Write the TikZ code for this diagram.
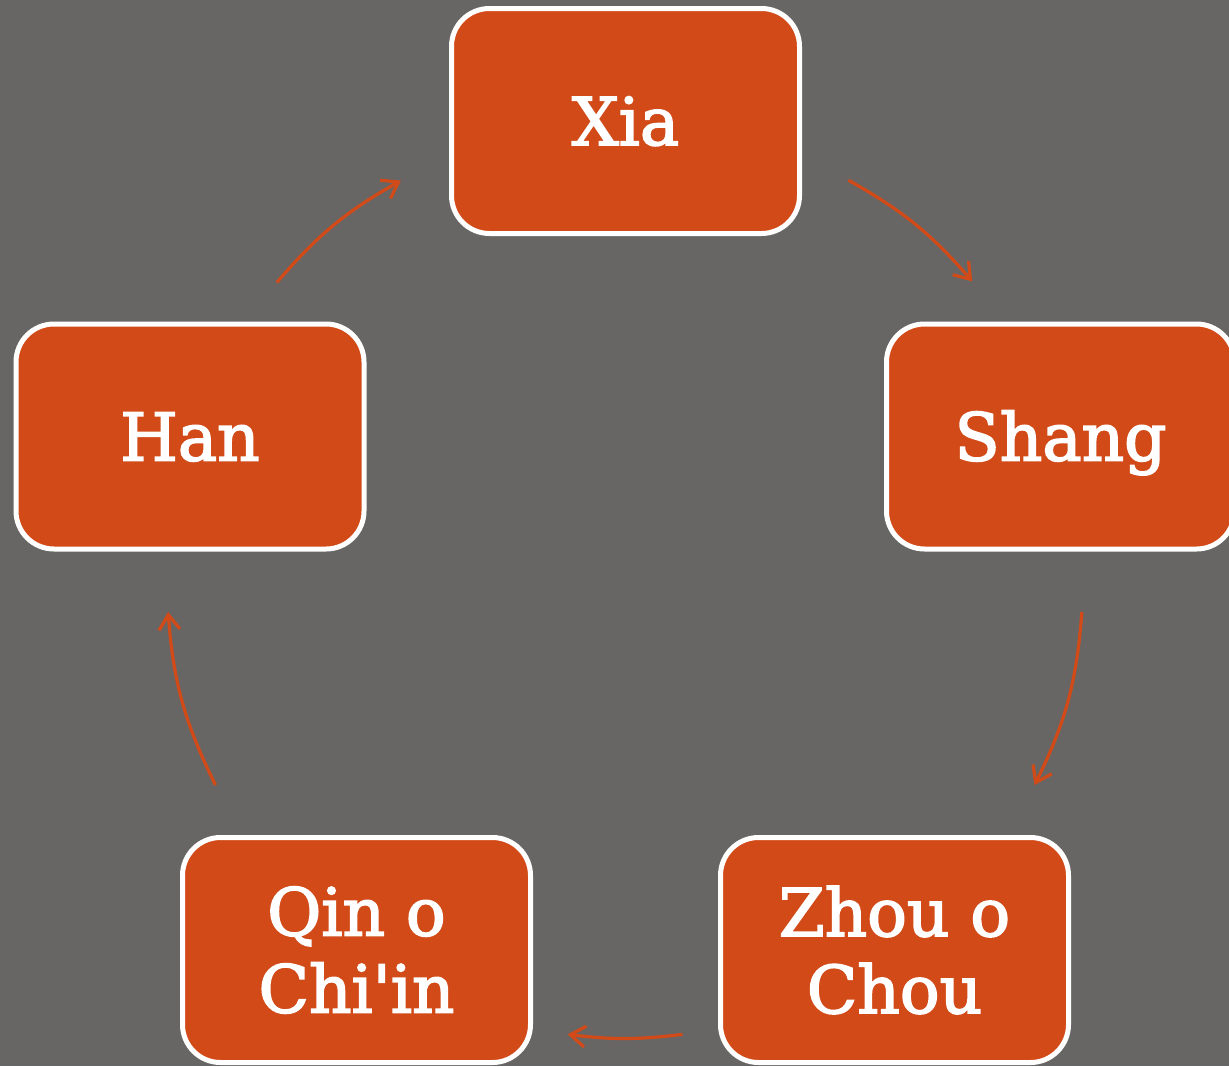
\documentclass[tikz,border=0pt]{standalone}
\usepackage{fontspec}
\setmainfont{DejaVu Serif}[Ligatures=TeXOff, BoldFont={DejaVu Serif}, BoldFeatures={FakeBold=2.5}]
\usetikzlibrary{arrows.meta}
\definecolor{bggray}{RGB}{103,102,100}
\definecolor{boxorange}{RGB}{210,74,24}
\tikzset{
  era/.style={draw=white, line width=5pt, fill=boxorange, rounded corners=38pt,
    minimum width=348pt, minimum height=225pt, text=white, inner sep=0pt,
    font=\fontsize{66}{77}\selectfont\bfseries, align=center},
  oneline/.style={text height=48pt, text depth=0pt, yshift=2pt},
  cyc/.style={draw=boxorange, line width=3.2pt,
    -{Straight Barb[length=15pt,width=21pt,line width=3.2pt]}}
}
\begin{document}
\begin{tikzpicture}
\useasboundingbox (0pt,0pt) rectangle (1229pt,-1066pt);
\clip (0pt,0pt) rectangle (1229pt,-1066pt);
\fill[bggray] (0pt,0pt) rectangle (1229pt,-1066pt);

\node[era, oneline] (xia)   at (625.5pt,-123pt)  {Xia};
\node[era, oneline] (shang) at (1060.5pt,-438.5pt) {Shang};
\node[era, oneline] (han)   at (190pt,-438.5pt)  {Han};
\node[era] (zhou)  at (894.5pt,-950pt) {Zhou o\\Chou};
\node[era] (qin)   at (356.5pt,-950pt) {Qin o\\Chi'in};

\coordinate (ctr) at (625pt,-580pt);
\coordinate (xs1) at ([shift={(60.8:458pt)}]ctr);
\coordinate (xs2) at ([shift={(40.7:458pt)}]ctr);
\coordinate (sz1) at ([shift={(-4:458pt)}]ctr);
\coordinate (sz2) at ([shift={(-26.6:458pt)}]ctr);
\coordinate (zq1) at ([shift={(-82.8:458pt)}]ctr);
\coordinate (zq2) at ([shift={(-97.2:458pt)}]ctr);
\coordinate (qh1) at ([shift={(206.6:458pt)}]ctr);
\coordinate (qh2) at ([shift={(184:458pt)}]ctr);
\coordinate (hx1) at ([shift={(139.5:458pt)}]ctr);
\coordinate (hx2) at ([shift={(119.3:458pt)}]ctr);

\draw[cyc] (xs1) to[bend left=10] (xs2);
\draw[cyc] (sz1) to[bend left=11] (sz2);
\draw[cyc] (zq1) to[bend left=7] (zq2);
\draw[cyc] (qh1) to[bend left=11] (qh2);
\draw[cyc] (hx1) to[bend left=10] (hx2);
\end{tikzpicture}
\end{document}
